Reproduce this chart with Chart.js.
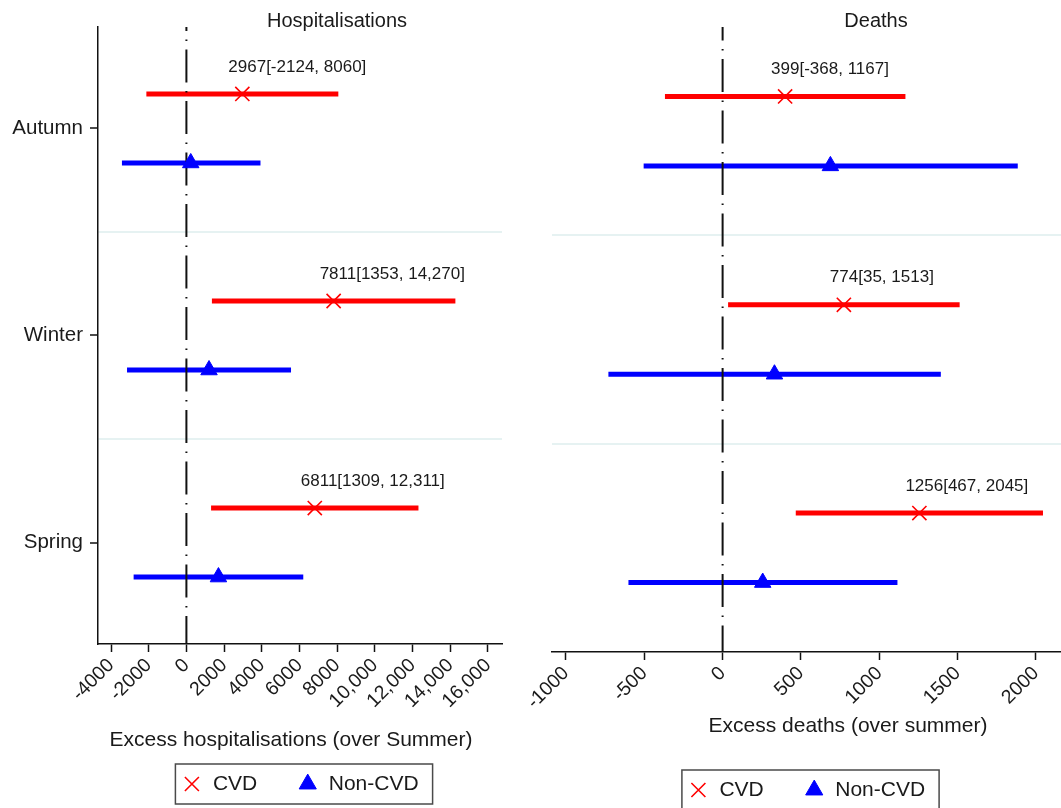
<!DOCTYPE html>
<html>
<head>
<meta charset="utf-8">
<script src="https://cdn.jsdelivr.net/npm/chart.js@4.4.1/dist/chart.umd.min.js"></script>
<style>
  body { margin: 0; background: #fff; }
  #wrap { position: relative; width: 1061px; height: 808px; overflow: hidden; background: #fff; }
  #hosp { position: absolute; left: 0; top: 0; }
  #deaths { position: absolute; left: 500px; top: 0; }
</style>
</head>
<body>
<div id="wrap">
  <canvas id="hosp" width="530" height="808"></canvas>
  <canvas id="deaths" width="561" height="812"></canvas>
</div>
<script>
const seasons = ["Autumn", "Winter", "Spring"];

// hospitalisations: estimate [lower, upper]
const hospCvd = [2967, 7811, 6811];
const hospCvdLow = [-2124, 1353, 1309];
const hospCvdHigh = [8060, 14270, 12311];
const hospNon = [230, 1200, 1700];
const hospNonLow = [-3420, -3150, -2800];
const hospNonHigh = [3930, 5550, 6200];

// deaths
const deathCvd = [399, 774, 1256];
const deathCvdLow = [-368, 35, 467];
const deathCvdHigh = [1167, 1513, 2045];
const deathNon = [688, 331, 256];
const deathNonLow = [-504, -729, -601];
const deathNonHigh = [1884, 1393, 1116];

const hospTicks = [-4000, -2000, 0, 2000, 4000, 6000, 8000, 10000, 12000, 14000, 16000];
const deathTicks = [-1000, -500, 0, 500, 1000, 1500, 2000];

Chart.defaults.font.family = "'Liberation Sans', Arial, sans-serif";
Chart.defaults.color = "#1a1a1a";

const RED = "#ff0000";
const BLUE = "#0000ff";
const SEP = "#e6f2f2";
const INK = "#111";
const FONT = "'Liberation Sans', Arial, sans-serif";

// stata style: commas only from 10,000 up
function fmt(v) {
  return Math.abs(v) >= 10000 ? v.toLocaleString("en-US") : String(v);
}

// seasons sit at 1..3 on a reversed axis, CVD row just above, Non-CVD just below
const rowOf = (i, k) => i + 1 + (k === 0 ? -1 / 6 : 1 / 6);

function points(vals, k) {
  return vals.map((v, i) => ({ x: v, y: rowOf(i, k) }));
}
function intervals(lo, hi, k) {
  const out = [];
  lo.forEach((v, i) => {
    out.push({ x: v, y: rowOf(i, k) }, { x: hi[i], y: rowOf(i, k) }, { x: NaN, y: NaN });
  });
  return out;
}

// dash-dot line at zero, drawn over the intervals but under the markers
const zeroLine = {
  id: "zeroLine",
  afterDatasetDraw(chart, args, opts) {
    if (args.index !== 2) return;
    const { ctx, chartArea, scales } = chart;
    const x = scales.x.getPixelForValue(0);
    ctx.save();
    ctx.strokeStyle = INK;
    ctx.lineWidth = 2;
    ctx.setLineDash([33, 8.5, 1.5, 8.5]);
    ctx.lineDashOffset = opts.dashOffset || 0;
    ctx.beginPath();
    ctx.moveTo(x, chartArea.top);
    ctx.lineTo(x, chartArea.bottom);
    ctx.stroke();
    ctx.restore();
  }
};

function ciText(mean, low, high) {
  return {
    id: "ciText",
    afterDatasetsDraw(chart) {
      const { ctx, scales } = chart;
      ctx.save();
      ctx.font = "17px " + FONT;
      ctx.fillStyle = "#1a1a1a";
      ctx.textAlign = "left";
      ctx.textBaseline = "middle";
      mean.forEach((m, i) => {
        const x = scales.x.getPixelForValue(m) - 14;
        const y = scales.y.getPixelForValue(rowOf(i, 0)) - 27;
        ctx.fillText(fmt(m) + "[" + fmt(low[i]) + ", " + fmt(high[i]) + "]", x, y);
      });
      ctx.restore();
    }
  };
}

// panel heading and x axis caption, placed like the stata graph
function captions(p) {
  return {
    id: "captions",
    afterDraw(chart) {
      const ctx = chart.ctx;
      ctx.save();
      ctx.fillStyle = "#1a1a1a";
      ctx.textAlign = "center";
      ctx.textBaseline = "middle";
      ctx.font = "20px " + FONT;
      ctx.fillText(p.title, p.titleX, 21);
      ctx.font = "21px " + FONT;
      ctx.fillText(p.xTitle, p.xTitleX, p.xTitleY);
      ctx.restore();
    }
  };
}

// frame round the legend entries, like the stata legend box
const legendFrame = {
  id: "legendFrame",
  afterDraw(chart) {
    const lg = chart.legend;
    if (!lg || !lg.legendHitBoxes || !lg.legendHitBoxes.length) return;
    const boxes = lg.legendHitBoxes;
    const first = boxes[0];
    const last = boxes[boxes.length - 1];
    const cy = first.top + first.height / 2;
    const left = first.left - 6;
    const right = last.left + last.width + 14;
    const ctx = chart.ctx;
    ctx.save();
    ctx.strokeStyle = "#4a4a4a";
    ctx.lineWidth = 1.5;
    ctx.strokeRect(left, cy - 20, right - left, 40);
    ctx.restore();
  }
};

const yTicks = seasons.flatMap((s, i) => (i < seasons.length - 1 ? [i + 1, i + 1.5] : [i + 1]));

function makePanel(el, p) {
  return new Chart(document.getElementById(el), {
    type: "scatter",
    data: {
      datasets: [
        {
          label: "CVD",
          data: points(p.cvd, 0),
          pointStyle: "crossRot",
          pointRadius: 10,
          pointHoverRadius: 10,
          borderColor: RED,
          backgroundColor: RED,
          pointBorderWidth: 1.6,
        },
        {
          label: "Non-CVD",
          data: points(p.non, 1),
          pointStyle: "triangle",
          pointRadius: 9.5,
          pointHoverRadius: 9.5,
          borderColor: BLUE,
          backgroundColor: BLUE,
          pointBorderWidth: 1,
        },
        {
          label: "CVD interval",
          ci: true,
          data: intervals(p.cvdLow, p.cvdHigh, 0),
          showLine: true,
          borderColor: RED,
          borderWidth: 5,
          borderCapStyle: "butt",
          pointRadius: 0,
        },
        {
          label: "Non-CVD interval",
          ci: true,
          data: intervals(p.nonLow, p.nonHigh, 1),
          showLine: true,
          borderColor: BLUE,
          borderWidth: 5,
          borderCapStyle: "butt",
          pointRadius: 0,
        },
      ],
    },
    options: {
      responsive: false,
      animation: false,
      events: [],
      layout: { padding: p.padding, autoPadding: false },
      plugins: {
        tooltip: { enabled: false },
        zeroLine: { dashOffset: p.dashOffset },
        legend: {
          position: "bottom",
          fullSize: false,
          labels: {
            usePointStyle: true,
            boxHeight: 14,
            padding: 40,
            font: { size: 21 },
            color: "#1a1a1a",
            filter: (item, data) => !data.datasets[item.datasetIndex].ci,
          },
        },
      },
      scales: {
        x: {
          type: "linear",
          min: p.xMin,
          max: p.xMax,
          afterBuildTicks: (s) => {
            s.ticks = p.ticks.map((v) => ({ value: v }));
          },
          afterFit: (s) => {
            s.height = p.xHeight;
            s.paddingLeft = 0;
            s.paddingRight = 0;
          },
          ticks: {
            callback: (v) => fmt(v),
            autoSkip: false,
            minRotation: 45,
            maxRotation: 45,
            padding: 2,
            font: { size: 19.5 },
            color: "#1a1a1a",
          },
          grid: { drawOnChartArea: false, tickLength: 8, tickColor: INK, tickWidth: 1.5 },
          border: { color: INK, width: 1.5 },
        },
        y: {
          type: "linear",
          reverse: true,
          min: p.yMin,
          max: p.yMax,
          afterBuildTicks: (s) => {
            s.ticks = yTicks.map((v) => ({ value: v }));
          },
          afterFit: (s) => {
            s.width = p.yWidth;
          },
          ticks: {
            display: p.showSeasons,
            callback: (v) => (Number.isInteger(v) ? seasons[v - 1] : ""),
            font: { size: 20.5 },
            padding: 7,
            color: "#1a1a1a",
          },
          grid: {
            color: (c) => (c.tick && !Number.isInteger(c.tick.value) ? SEP : "rgba(0,0,0,0)"),
            tickColor: (c) => (c.tick && Number.isInteger(c.tick.value) ? INK : "rgba(0,0,0,0)"),
            lineWidth: 2,
            tickWidth: 1.5,
            tickLength: 8,
            drawTicks: p.showSeasons,
          },
          border: { display: p.showSeasons, color: INK, width: 1.5 },
        },
      },
    },
    plugins: [zeroLine, ciText(p.cvd, p.cvdLow, p.cvdHigh), captions(p), legendFrame],
  });
}

const hospChart = makePanel("hosp", {
  cvd: hospCvd, cvdLow: hospCvdLow, cvdHigh: hospCvdHigh,
  non: hospNon, nonLow: hospNonLow, nonHigh: hospNonHigh,
  ticks: hospTicks, xMin: -4690, xMax: 16743,
  yMin: 0.51, yMax: 3.49, yWidth: 98, showSeasons: true,
  xHeight: 89.5,
  padding: { top: 27, right: 28, bottom: 3.5, left: 0 },
  xTitle: "Excess hospitalisations (over Summer)", xTitleX: 291, xTitleY: 740,
  title: "Hospitalisations", titleX: 337,
  dashOffset: 29,
});

const deathChart = makePanel("deaths", {
  cvd: deathCvd, cvdLow: deathCvdLow, cvdHigh: deathCvdHigh,
  non: deathNon, nonLow: deathNonLow, nonHigh: deathNonHigh,
  ticks: deathTicks, xMin: -1089, xMax: 2160,
  yMin: 0.5, yMax: 3.5, yWidth: 52, showSeasons: false,
  xHeight: 87.5,
  padding: { top: 27, right: 0, bottom: 1.5, left: 0 },
  xTitle: "Excess deaths (over summer)", xTitleX: 348, xTitleY: 726,
  title: "Deaths", titleX: 376,
  dashOffset: 19.5,
});
</script>
</body>
</html>
